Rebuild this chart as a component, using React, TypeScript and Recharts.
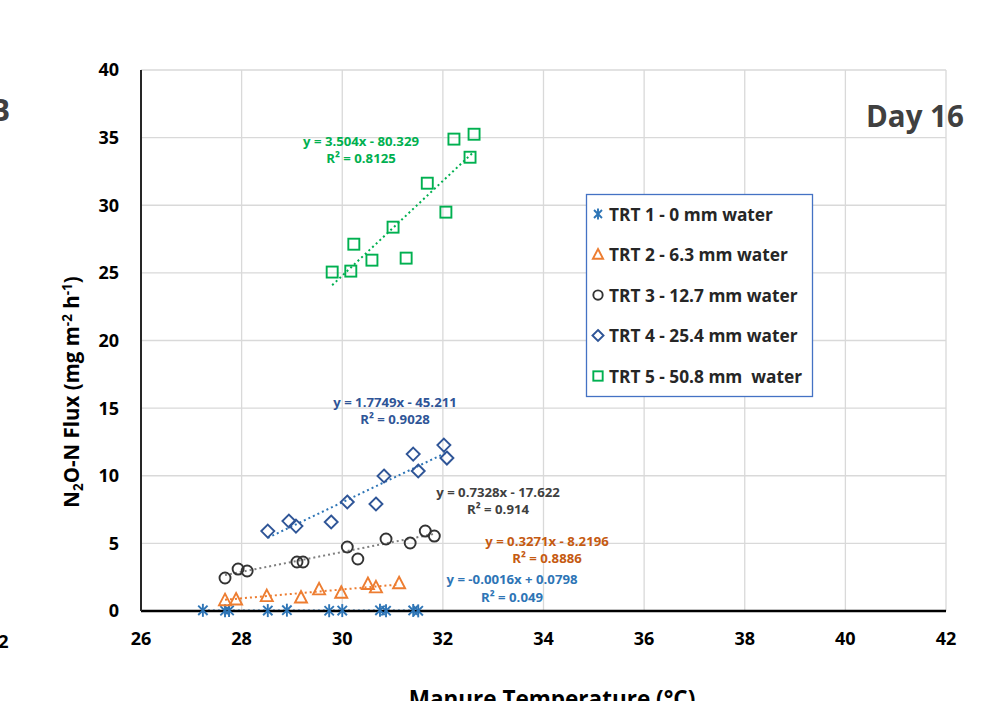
import React from "react";
import {
  ScatterChart,
  Scatter,
  XAxis,
  YAxis,
  CartesianGrid,
  ReferenceLine,
} from "recharts";

// Manure temperature (°C) and N2O-N flux (mg m-2 h-1), Day 16
const trt1X = [27.23, 27.67, 27.75, 28.52, 28.9, 29.74, 30.0, 30.75, 30.87, 31.41, 31.51];
const trt1Y = [0.05, 0.02, 0.04, 0.03, 0.06, 0.02, 0.03, 0.05, 0.02, 0.04, 0.01];

const trt2X = [27.67, 27.89, 28.5, 29.18, 29.54, 29.98, 30.51, 30.67, 31.13];
const trt2Y = [0.8, 0.85, 1.1, 1.0, 1.6, 1.35, 2.0, 1.75, 2.05];

const trt3X = [27.67, 27.93, 28.11, 29.1, 29.22, 30.1, 30.31, 30.87, 31.35, 31.65, 31.83];
const trt3Y = [2.44, 3.1, 2.96, 3.62, 3.62, 4.73, 3.84, 5.32, 5.03, 5.91, 5.54];

const trt4X = [28.52, 28.94, 29.08, 29.78, 30.1, 30.67, 30.83, 31.41, 31.51, 32.02, 32.08];
const trt4Y = [5.91, 6.65, 6.28, 6.58, 8.06, 7.91, 9.98, 11.6, 10.35, 12.27, 11.31];

const trt5X = [29.8, 30.17, 30.23, 30.59, 31.01, 31.27, 31.69, 32.06, 32.22, 32.54, 32.62];
const trt5Y = [25.06, 25.13, 27.12, 25.94, 28.38, 26.09, 31.63, 29.49, 34.89, 33.55, 35.25];

// trendline coefficients as printed on the chart
const slopes = [-0.0016, 0.3271, 0.7328, 1.7749, 3.504];
const intercepts = [0.0798, -8.2196, -17.622, -45.211, -80.329];
const eqLabels = [
  "y = -0.0016x + 0.0798",
  "y = 0.3271x - 8.2196",
  "y = 0.7328x - 17.622",
  "y = 1.7749x - 45.211",
  "y = 3.504x - 80.329",
];
const r2Labels = ["R² = 0.049", "R² = 0.8886", "R² = 0.914", "R² = 0.9028", "R² = 0.8125"];

const seriesNames = [
  "TRT 1 - 0 mm water",
  "TRT 2 - 6.3 mm water",
  "TRT 3 - 12.7 mm water",
  "TRT 4 - 25.4 mm water",
  "TRT 5 - 50.8 mm  water",
];

const xTicks = [26, 28, 30, 32, 34, 36, 38, 40, 42];
const yTicks = [0, 5, 10, 15, 20, 25, 30, 35, 40];

const xs = [trt1X, trt2X, trt3X, trt4X, trt5X];
const ys = [trt1Y, trt2Y, trt3Y, trt4Y, trt5Y];

const markerColors = ["#2E75B6", "#ED7D31", "#333333", "#2F5597", "#00B050"];
const trendColors = ["#2E75B6", "#ED7D31", "#7F7F7F", "#2E75B6", "#00B050"];
const eqColors = ["#2E75B6", "#C55A11", "#404040", "#2F5597", "#00B050"];

const FONT = "'Open Sans', Lato, sans-serif";

function Marker({ kind, cx, cy, color, s = 1 }: { kind: number; cx: number; cy: number; color: string; s?: number }) {
  const sw = 1.9;
  if (kind === 0) {
    const r = 6.5 * s;
    const d = r * 0.72;
    return (
      <g stroke={color} strokeWidth={sw}>
        <line x1={cx} y1={cy - r} x2={cx} y2={cy + r} />
        <line x1={cx - d} y1={cy - d} x2={cx + d} y2={cy + d} />
        <line x1={cx - d} y1={cy + d} x2={cx + d} y2={cy - d} />
      </g>
    );
  }
  if (kind === 1) {
    return (
      <polygon
        points={`${cx},${cy - 6.5 * s} ${cx + 6 * s},${cy + 5 * s} ${cx - 6 * s},${cy + 5 * s}`}
        fill="none"
        stroke={color}
        strokeWidth={sw}
      />
    );
  }
  if (kind === 2) {
    return <circle cx={cx} cy={cy} r={5.5 * s} fill="none" stroke={color} strokeWidth={sw} />;
  }
  if (kind === 3) {
    const r = 6.5 * s;
    return (
      <polygon
        points={`${cx},${cy - r} ${cx + r},${cy} ${cx},${cy + r} ${cx - r},${cy}`}
        fill="none"
        stroke={color}
        strokeWidth={sw}
      />
    );
  }
  const h = 5.5 * s;
  return <rect x={cx - h} y={cy - h} width={2 * h} height={2 * h} fill="none" stroke={color} strokeWidth={sw} />;
}

// pixel centres of the two equation lines
const eqPos = [
  { x: 512, y1: 579, y2: 597 },
  { x: 547, y1: 541, y2: 558 },
  { x: 498, y1: 492, y2: 509 },
  { x: 395, y1: 402, y2: 419 },
  { x: 361, y1: 141, y2: 158 },
];

export default function App() {
  const seriesData = xs.map((arr, i) => arr.map((x, j) => ({ x, y: ys[i][j] })));

  return (
    <div
      style={{
        position: "absolute",
        left: 0,
        top: 0,
        width: 1006,
        height: 701,
        overflow: "hidden",
        background: "#fff",
        fontFamily: FONT,
      }}
    >
      <ScatterChart width={1006} height={701} margin={{ top: 70, right: 60, bottom: 60, left: 81 }}>
        <CartesianGrid stroke="#D9D9D9" strokeWidth={1.3} />
        <XAxis
          type="number"
          dataKey="x"
          domain={[26, 42]}
          ticks={xTicks}
          height={30}
          tickLine={false}
          tickSize={0}
          tickMargin={21}
          axisLine={{ stroke: "#000", strokeWidth: 2.5 }}
          tick={{ fill: "#000", fontSize: 18, fontWeight: 700, fontFamily: FONT }}
          interval={0}
        />
        <YAxis
          type="number"
          dataKey="y"
          domain={[0, 40]}
          ticks={yTicks}
          width={60}
          tickLine={false}
          tickSize={0}
          tickMargin={22}
          axisLine={{ stroke: "#262626", strokeWidth: 2 }}
          tick={{ fill: "#000", fontSize: 18, fontWeight: 700, fontFamily: FONT }}
          interval={0}
        />
        {seriesData.map((d, i) => (
          <Scatter
            key={`s-${i}`}
            name={seriesNames[i]}
            data={d}
            isAnimationActive={false}
            shape={(p: any) => <Marker kind={i} cx={p.cx} cy={p.cy} color={markerColors[i]} />}
          />
        ))}
        {xs.map((arr, i) => {
          const x0 = Math.min(...arr);
          const x1 = Math.max(...arr);
          return (
            <ReferenceLine
              key={`t-${i}`}
              segment={[
                { x: x0, y: slopes[i] * x0 + intercepts[i] },
                { x: x1, y: slopes[i] * x1 + intercepts[i] },
              ]}
              stroke={trendColors[i]}
              strokeWidth={2}
              strokeDasharray="2 3"
              ifOverflow="visible"
            />
          );
        })}
      </ScatterChart>

      <svg
        width={1006}
        height={701}
        style={{ position: "absolute", left: 0, top: 0, pointerEvents: "none" }}
        fontFamily={FONT}
      >
        {/* equations */}
        {eqLabels.map((t, i) => (
          <g key={`eq-${i}`} fill={eqColors[i]} fontSize={13.2} fontWeight={700} textAnchor="middle">
            <text x={eqPos[i].x} y={eqPos[i].y1} dominantBaseline="central">
              {t}
            </text>
            <text x={eqPos[i].x} y={eqPos[i].y2} dominantBaseline="central">
              {r2Labels[i]}
            </text>
          </g>
        ))}

        {/* legend */}
        <rect x={586.5} y={194.5} width={226} height={202} fill="#fff" stroke="#4472C4" strokeWidth={1.3} />
        {seriesNames.map((n, i) => {
          const cy = 214 + i * 40.5;
          return (
            <g key={`lg-${i}`}>
              <Marker kind={i} cx={598} cy={cy} color={markerColors[i]} s={0.85} />
              <text
                x={609}
                y={cy}
                dominantBaseline="central"
                fontSize={17.3}
                fontWeight={700}
                fill="#262626"
                style={{ whiteSpace: "pre" }}
              >
                {n}
              </text>
            </g>
          );
        })}

        {/* Day label */}
        <text x={866} y={127} fontSize={29.5} fontWeight={700} fill="#404040">
          Day 16
        </text>

        {/* clipped pieces of neighbouring panels */}
        <text x={-10} y={121} fontSize={30} fontWeight={700} fill="#404040">
          B
        </text>
        <text x={-12} y={648} fontSize={18} fontWeight={700} fill="#000">
          42
        </text>

        {/* y axis title */}
        <text
          transform="translate(79, 392) rotate(-90)"
          textAnchor="middle"
          fontSize={20.5}
          fontWeight={700}
          fill="#000"
        >
          N
          <tspan fontSize={13.5} dy={4}>2</tspan>
          <tspan dy={-4}>O-N Flux (mg m</tspan>
          <tspan fontSize={13.5} dy={-7}>-2</tspan>
          <tspan dy={7}> h</tspan>
          <tspan fontSize={13.5} dy={-7}>-1</tspan>
          <tspan dy={7}>)</tspan>
        </text>

        {/* x axis title */}
        <text x={552} y={707} textAnchor="middle" fontSize={22.5} fontWeight={700} fill="#000">
          Manure Temperature (°C)
        </text>
      </svg>
    </div>
  );
}
